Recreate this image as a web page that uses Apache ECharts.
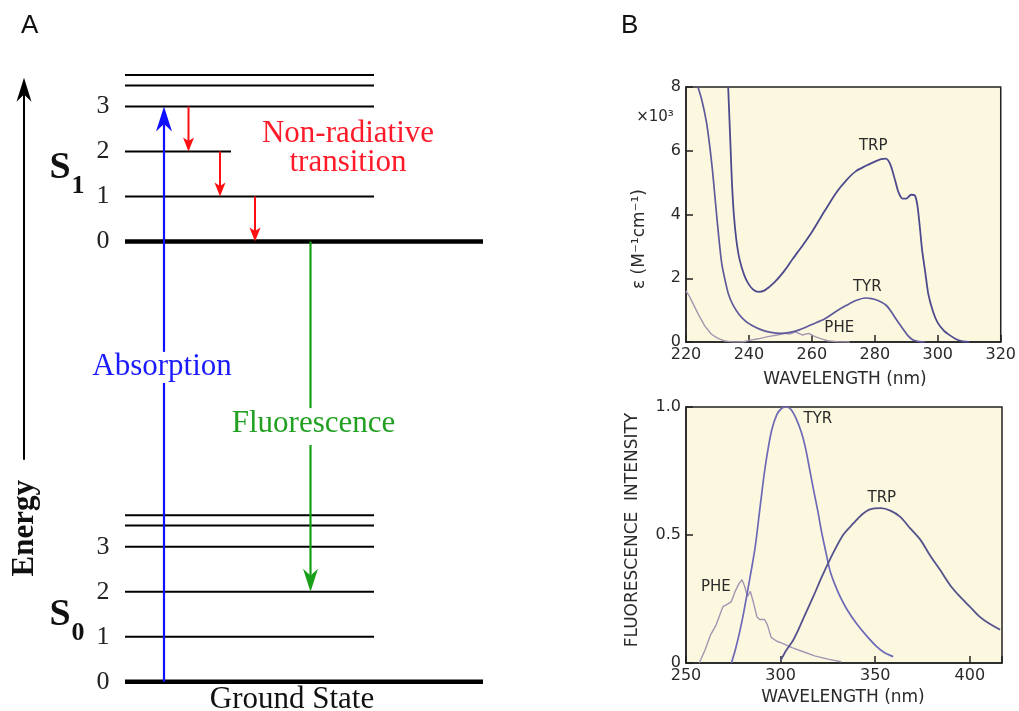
<!DOCTYPE html>
<html><head><meta charset="utf-8">
<script src="https://cdn.jsdelivr.net/npm/echarts@6/dist/echarts.min.js"></script>
<style>html,body{margin:0;padding:0;background:#fff}#c{width:1019px;height:711px}</style>
</head><body><div id="c"></div>
<script>
// ---------- Panel A: Jablonski diagram (energy in vibrational-level units) ----------
const levelOffsets = [0, 1, 2, 3, 3.47, 3.7];     // vibrational sub-levels
const levelNumbers = ['0', '1', '2', '3'];
const s0Energy = 0;
const s1Energy = 9.78;
const levelSpan = [25, 74.8];                      // horizontal extent of levels (diagram units)
const s1ShortLevelIndex = 2;
const s1ShortLevelEnd = 46.2;                      // S1 v=2 line is shorter
const zeroLevelEnd = 96.6;                         // v=0 lines are long
const absorptionX = 32.8;
const relaxX = [37.7, 44, 51];
const fluorescenceX = 62.1;
const fluorescenceTargetLevel = 2;
const absorptionTextGap = [6.64, 7.33];
const fluorescenceTextGap = [5.26, 6.08];
const energyAxis = {x: 4.8, from: 4.93, to: 13.42};

// ---------- Panel B top: absorption (epsilon x10^3) ----------
const absTRP = [[233.4,8],[233.8,7],[234.2,6],[234.6,5],[235.2,4],[236,3.2],[237,2.6],[238.5,2.1],[240,1.8],[241.5,1.63],[243,1.57],[245,1.62],[248,1.86],[251,2.2],[254,2.62],[257,3.02],[260,3.45],[264,4.1],[268,4.72],[271,5.08],[274,5.36],[277,5.52],[280,5.66],[282,5.74],[283.5,5.75],[285,5.55],[286.5,5.05],[287.5,4.7],[288.8,4.5],[290,4.5],[291.5,4.62],[292.7,4.6],[293.5,4.3],[294.3,3.6],[295,2.9],[296,2.2],[297,1.5],[298.5,0.95],[300,0.6],[302,0.35],[304,0.2],[306,0.08],[308,0.02],[310,0]];
const absTYR = [[223.8,8],[225,7.6],[226.5,6.9],[227.6,6.1],[228.5,5.3],[229.2,4.55],[230.2,3.5],[231.3,2.5],[232.5,1.9],[233.5,1.5],[235,1.15],[237,0.85],[239,0.65],[241,0.52],[244,0.38],[247,0.3],[250,0.27],[253,0.3],[256,0.38],[260,0.55],[264,0.72],[268,0.98],[271,1.15],[274,1.3],[277,1.38],[279,1.36],[281,1.3],[283.5,1.16],[285,0.98],[287,0.68],[289,0.4],[290.5,0.2],[292,0.07],[294,0.01],[296,0]];
const absPHE = [[220,1.6],[221,1.45],[222,1.25],[224,0.85],[226,0.5],[228,0.25],[230,0.12],[232,0.04],[234,0.01],[238,0],[240,0.05],[243,0.1],[246,0.17],[249,0.22],[251.5,0.27],[253,0.25],[254.8,0.32],[256.9,0.22],[259,0.27],[261,0.17],[263,0.1],[265,0.04],[268,0.01],[272,0]];
const absXTicks = {min: 220, max: 320, step: 20};
const absYTicks = {min: 0, max: 8, step: 2};

// ---------- Panel B bottom: fluorescence ----------
const fluTYR = [[274,0],[276,0.05],[278,0.11],[280.3,0.19],[283,0.3],[286.5,0.45],[289,0.6],[291,0.72],[293,0.82],[295.3,0.91],[298,0.97],[300.6,0.995],[303,1.0],[305.5,0.99],[308.5,0.95],[311,0.9],[313,0.845],[315,0.77],[317.3,0.68],[319.5,0.6],[321.7,0.51],[324,0.43],[326.1,0.36],[328.5,0.31],[331.4,0.26],[335,0.21],[340,0.155],[345,0.11],[350.8,0.064],[355,0.04],[359.5,0.025]];
const fluTRP = [[300,0.01],[303,0.05],[306.7,0.09],[310,0.14],[313,0.19],[317.3,0.26],[322,0.34],[327.8,0.43],[333,0.5],[338.4,0.545],[343,0.58],[347.2,0.6],[353,0.605],[358,0.595],[363.4,0.57],[368,0.53],[374,0.48],[379,0.42],[384.6,0.36],[390,0.3],[394.7,0.26],[400,0.22],[405.3,0.18],[410,0.155],[416,0.13]];
const fluPHE = [[257,0],[260,0.05],[263,0.11],[266,0.15],[268,0.19],[269.5,0.22],[272,0.23],[274,0.24],[276,0.28],[278,0.31],[279.6,0.325],[281,0.3],[282.5,0.26],[284,0.28],[285.5,0.24],[287.5,0.18],[289,0.17],[291.5,0.17],[293,0.15],[295,0.1],[298,0.085],[301,0.077],[306,0.06],[312,0.044],[318,0.028],[325,0.015],[332,0.005]];
const fluXTicks = {min: 250, max: 417, step: 50};
const fluYTicks = {min: 0, max: 1, step: 0.5};

// curve labels [text, x, y] in data units
const absLabels = [['TRP', 279.5, 6.14], ['TYR', 277.6, 1.72], ['PHE', 268.7, 0.44]];
const fluLabels = [['TYR', 319.7, 0.953], ['TRP', 353.5, 0.645], ['PHE', 265.8, 0.297]];

// ---------- build panel A data ----------
const levels = [];
[s0Energy, s1Energy].forEach((base, si) => {
  levelOffsets.forEach((off, i) => {
    let end = levelSpan[1];
    if (i === 0) end = zeroLevelEnd;
    if (si === 1 && i === s1ShortLevelIndex) end = s1ShortLevelEnd;
    levels.push([levelSpan[0], end, base + off, i === 0 ? 1 : 0]);
  });
});

const transitions = [
  {kind: 'absorption', x: absorptionX, from: s0Energy, to: s1Energy + levelOffsets[3], gap: absorptionTextGap},
  {kind: 'relax', x: relaxX[0], from: s1Energy + levelOffsets[3], to: s1Energy + levelOffsets[2]},
  {kind: 'relax', x: relaxX[1], from: s1Energy + levelOffsets[2], to: s1Energy + levelOffsets[1]},
  {kind: 'relax', x: relaxX[2], from: s1Energy + levelOffsets[1], to: s1Energy + levelOffsets[0]},
  {kind: 'fluorescence', x: fluorescenceX, from: s1Energy, to: s0Energy + levelOffsets[fluorescenceTargetLevel], gap: fluorescenceTextGap},
  {kind: 'energy', x: energyAxis.x, from: energyAxis.from, to: energyAxis.to}
];
const arrowStyle = {
  absorption: {color: '#1010ff', width: 2.2, head: [16, 25], notch: 0.3},
  relax: {color: '#ff1010', width: 2, head: [11, 14], notch: 0.25},
  fluorescence: {color: '#18a018', width: 2.2, head: [15, 23], notch: 0.3},
  energy: {color: '#000', width: 2, head: [15, 24], notch: 0.3}
};

const serif = '"Liberation Serif", "DejaVu Serif", serif';
const annotations = [];
levelNumbers.forEach((t, i) => {
  annotations.push({text: t, x: 20.6, y: s1Energy + levelOffsets[i], font: '26px ' + serif, color: '#222'});
  annotations.push({text: t, x: 20.6, y: s0Energy + levelOffsets[i], font: '26px ' + serif, color: '#222'});
});
annotations.push({text: 'S', x: 12, y: 11.42, font: 'bold 38px ' + serif, color: '#111'});
annotations.push({text: '1', x: 15.6, y: 11.0, font: 'bold 26px ' + serif, color: '#111'});
annotations.push({text: 'S', x: 12, y: 1.48, font: 'bold 38px ' + serif, color: '#111'});
annotations.push({text: '0', x: 15.6, y: 1.07, font: 'bold 26px ' + serif, color: '#111'});
annotations.push({text: 'Absorption', x: 32.4, y: 6.99, font: '31px ' + serif, color: '#1a1aff'});
annotations.push({text: 'Fluorescence', x: 62.7, y: 5.73, font: '31px ' + serif, color: '#22a022'});
annotations.push({text: 'Non-radiative\ntransition', x: 69.6, y: 11.85, font: '31px ' + serif, color: '#ff1a2a', lineHeight: 29});
annotations.push({text: 'Ground State', x: 58.4, y: -0.41, font: '31px ' + serif, color: '#111'});
annotations.push({text: 'Energy', x: 5, y: 3.41, font: 'bold 31px ' + serif, color: '#111', rotate: Math.PI / 2});

// ---------- render helpers ----------
function renderLevel(params, api) {
  const a = api.coord([api.value(0), api.value(2)]);
  const b = api.coord([api.value(1), api.value(2)]);
  return {type: 'line', shape: {x1: a[0], y1: a[1], x2: b[0], y2: b[1]},
    style: {stroke: '#000', lineWidth: api.value(3) ? 4.5 : 2}};
}
function renderArrow(params, api) {
  const t = transitions[api.value(3)];
  const st = arrowStyle[t.kind];
  const p1 = api.coord([t.x, t.from]);
  const p2 = api.coord([t.x, t.to]);
  const x = p1[0];
  const dir = p2[1] > p1[1] ? 1 : -1;
  const [hw, hl] = st.head;
  const baseY = p2[1] - dir * hl;
  const notchY = baseY + dir * hl * st.notch;
  const children = [];
  const seg = (ya, yb) => children.push({type: 'line', shape: {x1: x, y1: ya, x2: x, y2: yb},
    style: {stroke: st.color, lineWidth: st.width}});
  const endY = notchY;
  if (t.gap) {
    const g1 = api.coord([t.x, t.gap[0]])[1], g2 = api.coord([t.x, t.gap[1]])[1];
    const lo = Math.min(g1, g2), hi = Math.max(g1, g2);
    if (dir > 0) { seg(p1[1], lo); seg(hi, endY); } else { seg(p1[1], hi); seg(lo, endY); }
  } else seg(p1[1], endY);
  children.push({type: 'polygon', shape: {points: [[x, p2[1]], [x - hw / 2, baseY], [x, notchY], [x + hw / 2, baseY]]},
    style: {fill: st.color}});
  return {type: 'group', children};
}
function renderAnnotation(params, api) {
  const a = annotations[api.value(2)];
  const p = api.coord([a.x, a.y]);
  return {type: 'text', x: p[0], y: p[1], rotation: a.rotate || 0,
    style: {text: a.text, font: a.font, fill: a.color, align: 'center', verticalAlign: 'middle', lineHeight: a.lineHeight}};
}
const sans = '"DejaVu Sans", sans-serif';
function makeLabelRenderer(list) {
  return function (params, api) {
    const l = list[api.value(2)];
    const p = api.coord([l[1], l[2]]);
    return {type: 'text', x: p[0], y: p[1],
      style: {text: l[0], font: '15px ' + sans, fill: '#2a2a2a', align: 'center', verticalAlign: 'middle'}};
  };
}

const axisCommon = {
  axisLine: {show: true, onZero: false, lineStyle: {color: '#222', width: 1.5}},
  axisTick: {show: true, inside: true, length: 7, lineStyle: {color: '#222', width: 1.5}},
  splitLine: {show: false},
  axisLabel: {color: '#2a2a2a', fontFamily: 'DejaVu Sans', fontSize: 16, margin: 5}
};
const gridStyle = {show: true, backgroundColor: '#fbf8df', borderColor: '#222', borderWidth: 1.5};
const lineSeries = (data, xi, color, width, smooth) => ({
  type: 'line', xAxisIndex: xi, yAxisIndex: xi, data, showSymbol: false, symbol: 'none',
  smooth, lineStyle: {color, width}, silent: true, clip: true
});

const chart = echarts.init(document.getElementById('c'), null, {renderer: 'canvas'});
chart.setOption({
  animation: false,
  backgroundColor: '#fff',
  grid: [
    {left: 0, top: 6.7, width: 500, height: 675},
    Object.assign({left: 686, top: 87, width: 316, height: 255}, gridStyle),
    Object.assign({left: 686, top: 407, width: 316, height: 256}, gridStyle)
  ],
  xAxis: [
    {type: 'value', gridIndex: 0, min: 0, max: 100, show: false},
    Object.assign({type: 'value', gridIndex: 1, min: absXTicks.min, max: absXTicks.max, interval: absXTicks.step}, axisCommon),
    Object.assign({type: 'value', gridIndex: 2, min: fluXTicks.min, max: fluXTicks.max, interval: fluXTicks.step}, axisCommon,
      {axisLabel: Object.assign({}, axisCommon.axisLabel, {formatter: v => (v % fluXTicks.step === 0 ? String(v) : '')})})
  ],
  yAxis: [
    {type: 'value', gridIndex: 0, min: 0, max: 15, show: false},
    Object.assign({type: 'value', gridIndex: 1, min: absYTicks.min, max: absYTicks.max, interval: absYTicks.step}, axisCommon),
    Object.assign({type: 'value', gridIndex: 2, min: fluYTicks.min, max: fluYTicks.max, interval: fluYTicks.step}, axisCommon,
      {axisLabel: Object.assign({}, axisCommon.axisLabel, {formatter: v => (v === 0 ? '0' : v.toFixed(1))})})
  ],
  series: [
    {type: 'custom', xAxisIndex: 0, yAxisIndex: 0, data: levels, renderItem: renderLevel, silent: true},
    {type: 'custom', xAxisIndex: 0, yAxisIndex: 0, data: transitions.map((t, i) => [t.x, t.from, t.to, i]), renderItem: renderArrow, silent: true, z: 3},
    {type: 'custom', xAxisIndex: 0, yAxisIndex: 0, data: annotations.map((a, i) => [a.x, a.y, i]), renderItem: renderAnnotation, silent: true, z: 4},
    lineSeries(absPHE, 1, '#a495b0', 1.4, false),
    lineSeries(absTYR, 1, '#5f5a9c', 1.7, 0.25),
    lineSeries(absTRP, 1, '#4e4a8e', 1.8, 0.25),
    {type: 'custom', xAxisIndex: 1, yAxisIndex: 1, data: absLabels.map((l, i) => [l[1], l[2], i]), renderItem: makeLabelRenderer(absLabels), silent: true},
    lineSeries(fluPHE, 2, '#a295b4', 1.4, false),
    lineSeries(fluTYR, 2, '#6d68b8', 1.7, 0.25),
    lineSeries(fluTRP, 2, '#55528e', 1.8, 0.25),
    {type: 'custom', xAxisIndex: 2, yAxisIndex: 2, data: fluLabels.map((l, i) => [l[1], l[2], i]), renderItem: makeLabelRenderer(fluLabels), silent: true}
  ],
  graphic: [
    {type: 'text', left: 21, top: 13, style: {text: 'A', font: '26px "Liberation Sans", Arial, sans-serif', fill: '#111'}},
    {type: 'text', left: 621, top: 13, style: {text: 'B', font: '26px "Liberation Sans", Arial, sans-serif', fill: '#111'}},
    {type: 'text', x: 655, y: 117, style: {text: '×10³', font: '15px ' + sans, fill: '#2a2a2a', align: 'center', verticalAlign: 'middle'}},
    {type: 'text', x: 640, y: 239, rotation: Math.PI / 2, style: {text: 'ε (M⁻¹cm⁻¹)', font: '17px ' + sans, fill: '#2a2a2a', align: 'center', verticalAlign: 'middle'}},
    {type: 'text', x: 633, y: 530, rotation: Math.PI / 2, style: {text: 'FLUORESCENCE  INTENSITY', font: '17px ' + sans, fill: '#2a2a2a', align: 'center', verticalAlign: 'middle'}},
    {type: 'text', x: 845, y: 380, style: {text: 'WAVELENGTH (nm)', font: '17px ' + sans, fill: '#2a2a2a', align: 'center', verticalAlign: 'middle'}},
    {type: 'text', x: 843, y: 698, style: {text: 'WAVELENGTH (nm)', font: '17px ' + sans, fill: '#2a2a2a', align: 'center', verticalAlign: 'middle'}}
  ]
});
</script></body></html>
